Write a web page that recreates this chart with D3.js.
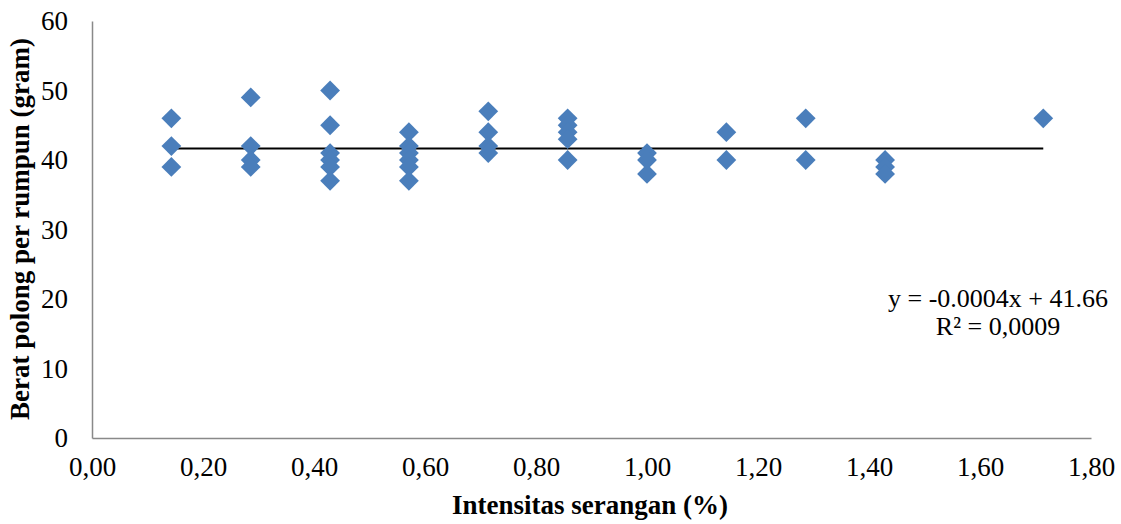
<!DOCTYPE html>
<meta charset="utf-8">
<style>
body{
	margin:0;
	background:#fff;
}
text{
	font-family:"Liberation Serif", "Times New Roman", serif;
	fill:#000;
}
.tick text{
	font-size:27px;
}
.axis-title{
	font-size:27px;
	font-weight:bold;
	text-anchor:middle;
}
.eq{
	font-size:26px;
	text-anchor:middle;
}
.domain{
	stroke:#898989;
	stroke-width:1.5px;
}
</style>
<body>
<script src="https://d3js.org/d3.v7.min.js"></script>
<script>
// intensitas serangan (%) and berat polong per rumpun (gram), one entry per point
var intensitas = [
 0.143, 0.143, 0.143,
 0.286, 0.286, 0.286, 0.286,
 0.429, 0.429, 0.429, 0.429, 0.429, 0.429,
 0.571, 0.571, 0.571, 0.571, 0.571, 0.571,
 0.714, 0.714, 0.714, 0.714,
 0.857, 0.857, 0.857, 0.857, 0.857,
 1.000, 1.000, 1.000,
 1.143, 1.143,
 1.286, 1.286,
 1.429, 1.429, 1.429,
 1.714
];
var berat = [
 46, 42, 39,
 49, 42, 40, 39,
 50, 45, 41, 40, 39, 37,
 44, 42, 41, 40, 39, 37,
 47, 44, 42, 41,
 46, 45, 44, 43, 40,
 41, 40, 38,
 44, 40,
 46, 40,
 40, 39, 38,
 46
];
// linear trendline as printed on the chart
var trendSlope = -0.0004;
var trendIntercept = 41.66;
var equationLines = ["y = -0.0004x + 41.66", "R\u00b2 = 0,0009"];

var xTicks = [0, 0.2, 0.4, 0.6, 0.8, 1.0, 1.2, 1.4, 1.6, 1.8];
var yTicks = [0, 10, 20, 30, 40, 50, 60];

var width = 1121, height = 524;
var margin = {top:21, right:30, bottom:86, left:92};

var svg = d3.select("body").append("svg")
	.attr("width", width).attr("height", height);

var x = d3.scaleLinear().domain([0, 1.8]).range([margin.left, width - margin.right]);
var y = d3.scaleLinear().domain([0, 60]).range([height - margin.bottom, margin.top]);

var fmt = function(d){ return d3.format(".2f")(d).replace(".", ","); };

svg.append("g")
	.attr("transform", "translate(0," + y(0) + ")")
	.call(d3.axisBottom(x).tickValues(xTicks).tickFormat(fmt).tickSize(0).tickPadding(19));

svg.append("g")
	.attr("transform", "translate(" + x(0) + ",0)")
	.call(d3.axisLeft(y).tickValues(yTicks).tickSize(0).tickPadding(24));

// trendline
var xExtent = d3.extent(intensitas);
svg.append("line")
	.attr("x1", x(xExtent[0])).attr("x2", x(xExtent[1]))
	.attr("y1", y(trendIntercept + trendSlope * xExtent[0]))
	.attr("y2", y(trendIntercept + trendSlope * xExtent[1]))
	.attr("stroke", "#000").attr("stroke-width", 2);

// points
var pts = intensitas.map(function(v, i){ return {x:v, y:berat[i]}; });
svg.append("g").selectAll("path")
	.data(pts)
	.join("path")
	.attr("transform", d => "translate(" + x(d.x) + "," + y(d.y) + ") rotate(45)")
	.attr("d", "M-7,-7H7V7H-7Z")
	.attr("fill", "#4A7EBB");

// axis titles
svg.append("text").attr("class", "axis-title")
	.attr("x", 590).attr("y", 514)
	.text("Intensitas serangan (%)");

svg.append("text").attr("class", "axis-title")
	.attr("transform", "translate(29,229) rotate(-90)")
	.text("Berat polong per rumpun (gram)");

// equation
svg.append("g").selectAll("text")
	.data(equationLines)
	.join("text")
	.attr("class", "eq")
	.attr("x", 998)
	.attr("y", (d, i) => 307 + i * 28)
	.text(d => d);
</script>
</body>
</html>
